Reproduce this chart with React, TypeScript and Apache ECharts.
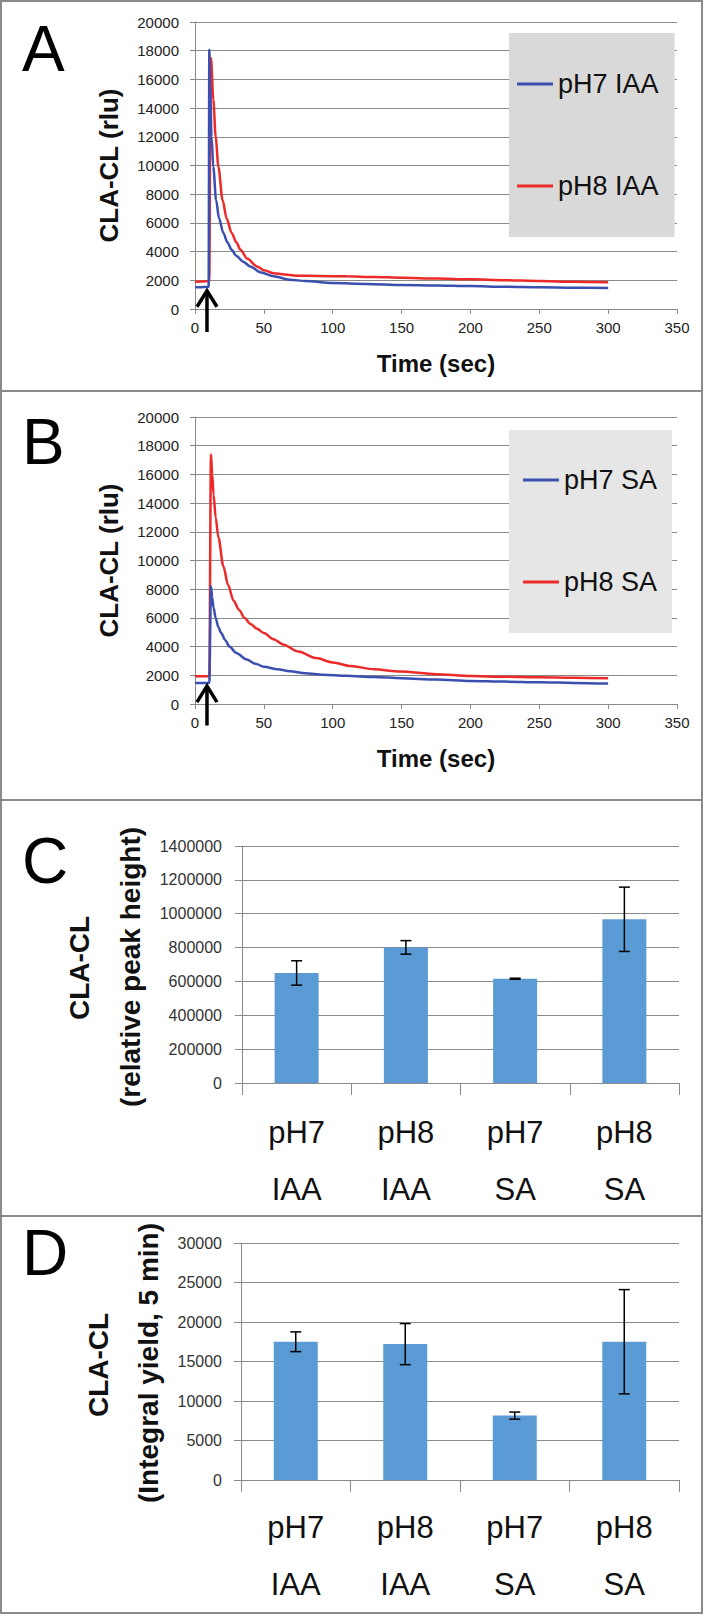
import React, { useEffect, useRef } from "react";
import * as echarts from "echarts";

// ---- Panel A (IAA) time courses ----
const tA_pH7 = [0, 3, 6, 9.9, 10.4, 11, 12, 13.3, 15.3, 17.5, 20.6, 23.5, 26.6, 30, 35, 40, 48, 57, 69, 80, 100, 125, 150, 175, 200, 225, 250, 275, 300];
const vA_pH7 = [1520, 1510, 1530, 1550, 18070, 15500, 12000, 9900, 7600, 6300, 5300, 4650, 4130, 3700, 3300, 2970, 2550, 2280, 2040, 1950, 1810, 1750, 1670, 1640, 1600, 1550, 1510, 1480, 1460];
const tA_pH8 = [0, 5, 10.4, 11.2, 11.6, 13.3, 15, 17, 20, 23, 26.6, 30, 33, 38, 45, 50, 57, 65, 76, 90, 110, 130, 150, 175, 200, 225, 250, 275, 300];
const vA_pH8 = [1900, 1920, 1950, 16500, 17500, 14600, 12000, 9900, 7600, 6300, 5300, 4650, 4130, 3500, 2970, 2700, 2500, 2400, 2320, 2300, 2280, 2230, 2180, 2120, 2070, 2010, 1950, 1900, 1860];

// ---- Panel B (SA) time courses ----
const tB_pH7 = [0, 5, 10.4, 11.6, 12.5, 13.5, 15, 17, 19, 22, 25, 30, 37.5, 44, 50, 60, 69, 80, 93, 110, 130, 150, 175, 200, 225, 250, 275, 300];
const vB_pH7 = [1460, 1460, 1480, 8200, 7400, 6700, 6000, 5350, 4950, 4450, 4000, 3550, 3100, 2800, 2600, 2420, 2280, 2150, 2040, 1960, 1880, 1800, 1700, 1600, 1560, 1510, 1470, 1420];
const tB_pH8 = [0, 5, 10.4, 11.6, 12.5, 13.5, 15, 17, 20.6, 24, 28, 32, 36, 40, 45, 50, 57, 64, 75, 88, 100, 113, 130, 149, 175, 200, 225, 250, 275, 300];
const vB_pH8 = [1930, 1930, 1950, 17400, 16000, 14600, 13000, 11600, 9600, 8300, 7200, 6550, 6000, 5600, 5250, 4950, 4520, 4150, 3650, 3200, 2900, 2650, 2420, 2260, 2080, 1950, 1900, 1860, 1830, 1790];

// injection arrow: [time, tip value, tail value]
const arrowA = [[8.7, 1275, -1600]];
const arrowB = [[8.7, 1250, -1500]];

// ---- Panels C and D bars ----
const categories = ["pH7\nIAA", "pH8\nIAA", "pH7\nSA", "pH8\nSA"];
const peakHeight = [650000, 801000, 616000, 967000];
const peakErr = [72000, 40000, 3000, 190000];
const integralYield = [17500, 17200, 8150, 17500];
const integralErr = [1250, 2600, 450, 6600];

const FONT = "Liberation Sans, Arial, sans-serif";
const GRAY = "#8a8a8a";
const BLUE = "#3a4fb0";
const RED = "#ec2a2a";
const BAR = "#5b9bd5";

const zip = (t: number[], v: number[]) => t.map((x, i) => [x, v[i]]);
const plain = (v: number) => String(v);

function errorRender(params: any, api: any) {
  const x = api.value(0);
  const v = api.value(1);
  const e = api.value(2);
  const top = api.coord([x, v + e]);
  const bot = api.coord([x, v - e]);
  const hw = 5.5;
  const style = { stroke: "#000", lineWidth: 1.5 };
  return {
    type: "group",
    children: [
      { type: "line", shape: { x1: top[0], y1: top[1], x2: bot[0], y2: bot[1] }, style },
      { type: "line", shape: { x1: top[0] - hw, y1: top[1], x2: top[0] + hw, y2: top[1] }, style },
      { type: "line", shape: { x1: bot[0] - hw, y1: bot[1], x2: bot[0] + hw, y2: bot[1] }, style },
    ],
  };
}

function arrowRender(params: any, api: any) {
  const t = api.value(0);
  const tip = api.coord([t, api.value(1)]);
  const tail = api.coord([t, api.value(2)]);
  const style = { stroke: "#000", lineWidth: 3.5, fill: "none" };
  return {
    type: "group",
    children: [
      { type: "line", shape: { x1: tail[0], y1: tail[1], x2: tip[0], y2: tip[1] + 2 }, style },
      {
        type: "polyline",
        shape: { points: [[tip[0] - 10, tip[1] + 16], [tip[0], tip[1]], [tip[0] + 10, tip[1] + 16]] },
        style,
      },
    ],
  };
}

function timeXAxis(gridIndex: number) {
  return {
    type: "value",
    gridIndex,
    min: 0,
    max: 350,
    interval: 50,
    splitLine: { show: false },
    axisLine: { show: true, lineStyle: { color: GRAY, width: 1 } },
    axisTick: { show: true, length: 5, lineStyle: { color: GRAY } },
    axisLabel: { fontSize: 15, margin: 11, color: "#222", fontFamily: FONT, formatter: plain },
    name: "Time (sec)",
    nameLocation: "middle",
    nameGap: 40,
    nameTextStyle: { fontSize: 24, fontWeight: "bold", fontFamily: FONT, color: "#111", lineHeight: 28 },
  };
}

function rluYAxis(gridIndex: number) {
  return {
    type: "value",
    gridIndex,
    min: 0,
    max: 20000,
    interval: 2000,
    splitLine: { show: true, lineStyle: { color: GRAY, width: 1 } },
    axisLine: { show: true, lineStyle: { color: GRAY, width: 1 } },
    axisTick: { show: true, length: 5, lineStyle: { color: GRAY } },
    axisLabel: { fontSize: 15, margin: 16, color: "#222", fontFamily: FONT, formatter: plain },
    name: "CLA-CL (rlu)",
    nameLocation: "middle",
    nameGap: 71,
    nameTextStyle: { fontSize: 26, fontWeight: "bold", fontFamily: FONT, color: "#111", lineHeight: 30 },
  };
}

function catXAxis(gridIndex: number, margin: number) {
  return {
    type: "category",
    gridIndex,
    data: categories,
    boundaryGap: true,
    axisLine: { show: true, lineStyle: { color: GRAY, width: 1 } },
    axisTick: { show: true, length: 12, alignWithLabel: false, lineStyle: { color: GRAY } },
    axisLabel: { fontSize: 31, lineHeight: 57, margin, color: "#111", fontFamily: FONT, interval: 0 },
    splitLine: { show: false },
  };
}

function barYAxis(gridIndex: number, max: number, interval: number, margin: number) {
  return {
    type: "value",
    gridIndex,
    min: 0,
    max,
    interval,
    splitLine: { show: true, lineStyle: { color: GRAY, width: 1 } },
    axisLine: { show: true, lineStyle: { color: GRAY, width: 1 } },
    axisTick: { show: true, length: 7, lineStyle: { color: GRAY } },
    axisLabel: { fontSize: 16, margin, color: "#333", fontFamily: FONT, formatter: plain },
  };
}

function panelLetter(text: string, y: number) {
  return {
    type: "text",
    x: 22,
    y,
    style: { text, fontSize: 64, fontFamily: FONT, fill: "#000", textAlign: "left", textVerticalAlign: "middle" },
  };
}

function vTitle(text: string, x: number, y: number) {
  return {
    type: "text",
    x,
    y,
    rotation: Math.PI / 2,
    style: {
      text,
      fontSize: 28,
      fontWeight: "bold",
      fontFamily: FONT,
      fill: "#111",
      textAlign: "center",
      textVerticalAlign: "middle",
    },
    silent: true,
  };
}

export default function App() {
  const ref = useRef<HTMLDivElement>(null);
  useEffect(() => {
    if (!ref.current) return;
    const chart = echarts.init(ref.current, undefined, { renderer: "svg" });
    const legendBase = {
      orient: "vertical",
      icon: "rect",
      itemWidth: 36,
      itemHeight: 3,
      itemGap: 72,
      textStyle: { fontSize: 27, lineHeight: 30, color: "#111", fontFamily: FONT },
      selectedMode: false,
    };
    const lineSeries = (name: string, axis: number, data: number[][], color: string, z: number) => ({
      name,
      type: "line",
      xAxisIndex: axis,
      yAxisIndex: axis,
      data,
      showSymbol: false,
      symbol: "none",
      smooth: 0.3,
      smoothMonotone: "x",
      lineStyle: { color, width: 2.5 },
      itemStyle: { color },
      z,
    });
    chart.setOption({
      animation: false,
      backgroundColor: "#fff",
      grid: [
        { left: 195, right: 28, top: 22, height: 287 },
        { left: 195, right: 28, top: 417, height: 287 },
        { left: 242, right: 26, top: 846, height: 237 },
        { left: 241, right: 26, top: 1243, height: 237 },
      ],
      xAxis: [timeXAxis(0), timeXAxis(1), catXAxis(2, 21), catXAxis(3, 19)],
      yAxis: [
        rluYAxis(0),
        rluYAxis(1),
        barYAxis(2, 1400000, 200000, 20),
        barYAxis(3, 30000, 5000, 19),
      ],
      legend: [
        {
          ...legendBase,
          data: ["pH7 IAA", "pH8 IAA"],
          left: 509,
          top: 33,
          padding: [36, 16, 36, 8],
          backgroundColor: "#d9d9d9",
        },
        {
          ...legendBase,
          data: ["pH7 SA", "pH8 SA"],
          left: 509,
          top: 430,
          padding: [35, 15, 36, 14],
          backgroundColor: "#e6e6e6",
        },
      ],
      series: [
        lineSeries("pH7 IAA", 0, zip(tA_pH7, vA_pH7), BLUE, 3),
        lineSeries("pH8 IAA", 0, zip(tA_pH8, vA_pH8), RED, 2),
        lineSeries("pH7 SA", 1, zip(tB_pH7, vB_pH7), BLUE, 3),
        lineSeries("pH8 SA", 1, zip(tB_pH8, vB_pH8), RED, 2),
        { type: "custom", xAxisIndex: 0, yAxisIndex: 0, data: arrowA, renderItem: arrowRender, clip: false, z: 5, silent: true },
        { type: "custom", xAxisIndex: 1, yAxisIndex: 1, data: arrowB, renderItem: arrowRender, clip: false, z: 5, silent: true },
        { type: "bar", xAxisIndex: 2, yAxisIndex: 2, data: peakHeight, barWidth: 44, itemStyle: { color: BAR } },
        { type: "custom", xAxisIndex: 2, yAxisIndex: 2, data: peakHeight.map((v, i) => [i, v, peakErr[i]]), encode: { x: 0, y: 1 }, renderItem: errorRender, z: 5, silent: true },
        { type: "bar", xAxisIndex: 3, yAxisIndex: 3, data: integralYield, barWidth: 44, itemStyle: { color: BAR } },
        { type: "custom", xAxisIndex: 3, yAxisIndex: 3, data: integralYield.map((v, i) => [i, v, integralErr[i]]), encode: { x: 0, y: 1 }, renderItem: errorRender, z: 5, silent: true },
      ],
      graphic: [
        { type: "rect", shape: { x: 1, y: 1, width: 701, height: 1612 }, style: { fill: "none", stroke: GRAY, lineWidth: 2 }, silent: true },
        { type: "line", shape: { x1: 1, y1: 391, x2: 702, y2: 391 }, style: { stroke: GRAY, lineWidth: 2 }, silent: true },
        { type: "line", shape: { x1: 1, y1: 800, x2: 702, y2: 800 }, style: { stroke: GRAY, lineWidth: 2 }, silent: true },
        { type: "line", shape: { x1: 1, y1: 1216, x2: 702, y2: 1216 }, style: { stroke: GRAY, lineWidth: 2 }, silent: true },
        panelLetter("A", 49),
        panelLetter("B", 442),
        panelLetter("C", 861),
        panelLetter("D", 1253),
        vTitle("CLA-CL", 79, 968),
        vTitle("(relative peak height)", 130, 967),
        vTitle("CLA-CL", 98, 1365),
        vTitle("(Integral yield, 5 min)", 148, 1363),
      ],
    });
    return () => chart.dispose();
  }, []);
  return (
    <div
      ref={ref}
      style={{ position: "absolute", left: 0, top: 0, width: 705, height: 1616, background: "#fff" }}
    />
  );
}
